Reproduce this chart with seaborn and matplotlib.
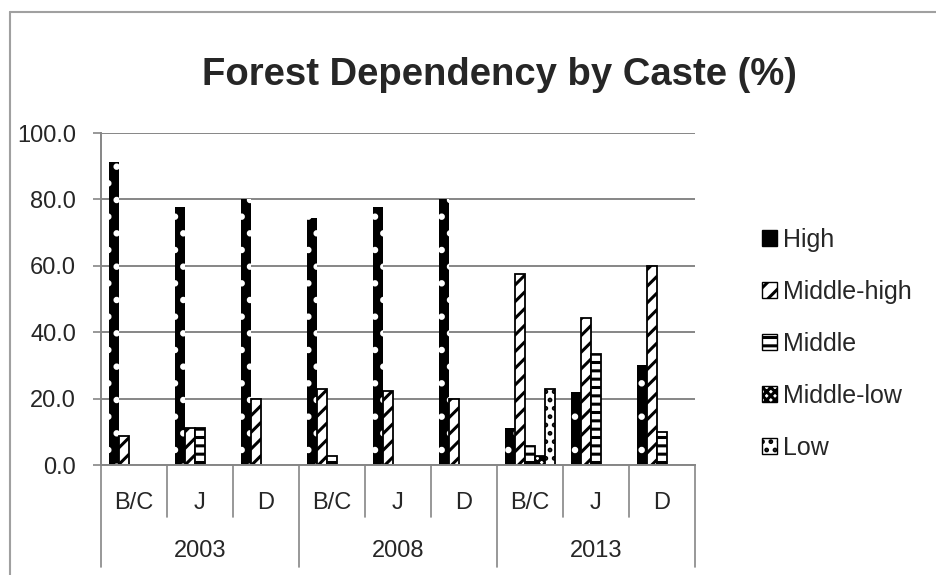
import numpy as np
import pandas as pd
import matplotlib
matplotlib.use("Agg")
import matplotlib.pyplot as plt
import seaborn as sns
from matplotlib.lines import Line2D
from matplotlib.patches import Patch

# ---------------- data ----------------
years = ["2003", "2008", "2013"]
castes = ["B/C", "J", "D"]
series = ["High", "Middle-high", "Middle", "Middle-low", "Low"]
high = [91.4, 77.8, 80.0, 74.3, 77.8, 80.0, 11.1, 22.0, 30.0]
mid_high = [8.6, 11.1, 20.0, 23.0, 22.2, 20.0, 57.4, 44.4, 60.0]
middle = [0.0, 11.1, 0.0, 2.7, 0.0, 0.0, 5.6, 33.3, 10.0]
mid_low = [0.0, 0.0, 0.0, 0.0, 0.0, 0.0, 2.8, 0.0, 0.0]
low = [0.0, 0.0, 0.0, 0.0, 0.0, 0.0, 22.9, 0.0, 0.0]
y_ticks = [0, 20, 40, 60, 80, 100]

groups = [f"{y} {c}" for y in years for c in castes]
values = {"High": high, "Middle-high": mid_high, "Middle": middle,
          "Middle-low": mid_low, "Low": low}
rows = []
for s in series:
    for g, v in zip(groups, values[s]):
        rows.append({"group": g, "series": s, "value": v})
df = pd.DataFrame(rows)

# ---------------- style ----------------
sns.set_style("white")
plt.rcParams["font.family"] = ["Liberation Sans", "DejaVu Sans"]
plt.rcParams["hatch.linewidth"] = 2.2
GRID = "#868686"

W, H = 937, 575
fig = plt.figure(figsize=(W / 100, H / 100), dpi=100)
ax = fig.add_axes([101 / W, 1 - 465 / H, 594 / W, 332 / H])

sns.barplot(data=df, x="group", y="value", hue="series", order=groups,
            hue_order=series, width=0.77, ax=ax,
            palette=["black", "white", "white", "white", "white"],
            edgecolor="black", linewidth=1.3, saturation=1, legend=False,
            errorbar=None)

styles = {
    "High": dict(fc="black", ec="white", hatch=".", lw=0),
    "Middle-high": dict(fc="white", ec="black", hatch="//", lw=1.3),
    "Middle": dict(fc="white", ec="black", hatch="--", lw=1.3),
    "Middle-low": dict(fc="white", ec="black", hatch="xxxx", lw=1.3),
    "Low": dict(fc="white", ec="black", hatch="..", lw=1.3),
}
for s, cont in zip(series, ax.containers):
    st = styles[s]
    for bar in cont:
        bar.set_facecolor(st["fc"])
        bar.set_edgecolor(st["ec"])
        bar.set_hatch(st["hatch"])
        bar.set_linewidth(st["lw"])
        if bar.get_height() <= 0:
            bar.set_visible(False)

ax.set_xlim(-0.5, len(groups) - 0.5)
ax.set_ylim(0, 100)
ax.set_yticks(y_ticks)
ax.set_yticklabels([f"{t:.1f}" for t in y_ticks])
ax.yaxis.grid(True, color=GRID, linewidth=1.4)
ax.set_axisbelow(True)
ax.set_xlabel("")
ax.set_ylabel("")
ax.set_xticks([])
ax.tick_params(axis="y", length=6, width=1.2, color=GRID, pad=12,
               labelsize=17, left=True)
for side in ["top", "right"]:
    ax.spines[side].set_visible(False)
for side in ["left", "bottom"]:
    ax.spines[side].set_color(GRID)
    ax.spines[side].set_linewidth(1.4)

# multi-level category axis
n = len(groups)
cat_y = -(503 - 465) / 332
year_y = -(551 - 465) / 332
cat_sep = -(517 - 465) / 332
year_sep = -(567 - 465) / 332
for i, g in enumerate(groups):
    ax.text((i + 0.5) / n, cat_y, castes[i % 3], transform=ax.transAxes,
            ha="center", va="center", fontsize=17)
for j, yr in enumerate(years):
    ax.text((j * 3 + 1.5) / n, year_y, yr, transform=ax.transAxes,
            ha="center", va="center", fontsize=17)
for i in range(n + 1):
    bottom = year_sep if i % 3 == 0 else cat_sep
    ax.add_line(Line2D([i / n, i / n], [0, bottom], transform=ax.transAxes,
                       color=GRID, lw=1.2, clip_on=False))

# title
fig.text(499 / W, 1 - 75 / H, "Forest Dependency by Caste (%)",
         ha="center", va="center", fontsize=27.5, fontweight="bold")

# legend
handles = [Patch(facecolor=styles[s]["fc"], edgecolor="black",
                 hatch=styles[s]["hatch"] if s != "High" else None,
                 linewidth=1.0, label=s) for s in series]
fig.legend(handles=handles, loc="center left",
           bbox_to_anchor=(762 / W, 1 - 344 / H), frameon=False,
           fontsize=18, handlelength=0.6, handleheight=0.6,
           handletextpad=0.25, labelspacing=1.12, borderpad=0,
           borderaxespad=0)

# chart border
fig.add_artist(Line2D([10 / W, 10 / W], [0, 1 - 12 / H], transform=fig.transFigure,
                      color="#a0a0a0", lw=1.5))
fig.add_artist(Line2D([10 / W, 1], [1 - 12 / H, 1 - 12 / H], transform=fig.transFigure,
                      color="#a0a0a0", lw=1.5))

fig.savefig("out.png", dpi=100, facecolor="white")
